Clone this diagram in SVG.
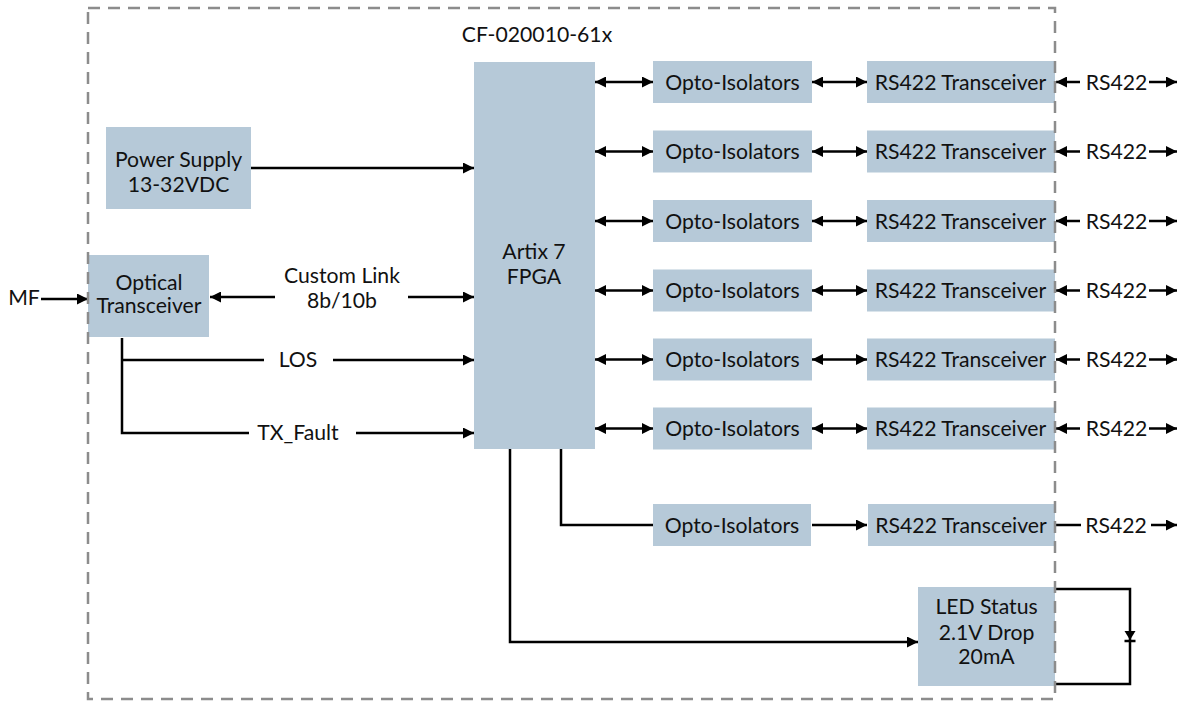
<svg xmlns="http://www.w3.org/2000/svg" width="1183" height="704" viewBox="0 0 1183 704">
<style>
.box{fill:#b6c9d8}
.t{font-family:Lato,"Open Sans",sans-serif;font-size:21.2px;fill:#111;text-anchor:middle}
.c{fill:none;stroke:#000;stroke-width:2.5}
.a{marker-end:url(#ah)}
.b{marker-start:url(#ah);marker-end:url(#ah)}
.border{fill:none;stroke:#8c8c8c;stroke-width:2.5;stroke-dasharray:12 8}
</style>
<defs>
<marker id="ah" markerUnits="userSpaceOnUse" markerWidth="11" markerHeight="11" refX="11" refY="5.5" orient="auto-start-reverse" viewBox="0 0 11 11">
<path d="M0,0 L11,5.5 L0,11 z" fill="#000"/>
</marker>
</defs>
<rect width="1183" height="704" fill="#fff"/>

<text class="t" x="537" y="42">CF-020010-61x</text>

<g id="connectors">
<path class="c a" d="M251,168 H474"/>
<path class="c a" d="M41,299 H88"/>
<path class="c a" d="M275,297 H210"/>
<path class="c a" d="M408,297 H474"/>
<path class="c" d="M122,338 V433 H249"/>
<path class="c" d="M122,360 H264"/>
<path class="c a" d="M333,360 H474"/>
<path class="c a" d="M356,433 H474"/>
<g id="row-links">
<path class="c b" d="M595,82 H653"/><path class="c b" d="M812,82 H867"/><path class="c a" d="M1080,82 H1056"/><path class="c a" d="M1149,82 H1177"/>
<path class="c b" d="M595,151.5 H653"/><path class="c b" d="M812,151.5 H867"/><path class="c a" d="M1080,151.5 H1056"/><path class="c a" d="M1149,151.5 H1177"/>
<path class="c b" d="M595,221 H653"/><path class="c b" d="M812,221 H867"/><path class="c a" d="M1080,221 H1056"/><path class="c a" d="M1149,221 H1177"/>
<path class="c b" d="M595,290.5 H653"/><path class="c b" d="M812,290.5 H867"/><path class="c a" d="M1080,290.5 H1056"/><path class="c a" d="M1149,290.5 H1177"/>
<path class="c b" d="M595,359.5 H653"/><path class="c b" d="M812,359.5 H867"/><path class="c a" d="M1080,359.5 H1056"/><path class="c a" d="M1149,359.5 H1177"/>
<path class="c b" d="M595,428.5 H653"/><path class="c b" d="M812,428.5 H867"/><path class="c a" d="M1080,428.5 H1056"/><path class="c a" d="M1149,428.5 H1177"/>
</g>
<path class="c" d="M561,449 V525 H653"/>
<path class="c a" d="M812,525 H867"/>
<path class="c" d="M1055,525 H1081"/>
<path class="c a" d="M1151,525 H1177"/>
<path class="c a" d="M510,449 V642 H918"/>
<path class="c" d="M1055,589 H1130 V684 H1055"/>
<path d="M1124.5,631 H1135.5 L1130,640 z" fill="#000"/>
<path class="c" d="M1124.5,641 H1135.5"/>
</g>

<g id="fpga"><rect class="box" x="474" y="62" width="121" height="387"/><text class="t" x="534" y="259">Artix 7</text><text class="t" x="534" y="284">FPGA</text></g>
<g id="power"><rect class="box" x="106" y="127" width="145" height="82"/><text class="t" x="178.5" y="167">Power Supply</text><text class="t" x="178.5" y="192">13-32VDC</text></g>
<g id="optical"><rect class="box" x="88" y="255" width="121" height="82"/><text class="t" x="149" y="289.5">Optical</text><text class="t" x="149" y="313">Transceiver</text></g>
<text class="t" x="24" y="305">MF</text>
<text class="t" x="342" y="283">Custom Link</text>
<text class="t" x="342" y="308">8b/10b</text>
<text class="t" x="298" y="367">LOS</text>
<text class="t" x="298" y="440">TX_Fault</text>

<g id="row1"><rect class="box" x="653" y="61" width="159" height="42"/><text class="t" x="732.5" y="89.5">Opto-Isolators</text><rect class="box" x="867" y="61" width="188" height="42"/><text class="t" x="960.5" y="89.5">RS422 Transceiver</text><text class="t" x="1116.5" y="89.5">RS422</text></g>
<g id="row2"><rect class="box" x="653" y="130.5" width="159" height="42"/><text class="t" x="732.5" y="159">Opto-Isolators</text><rect class="box" x="867" y="130.5" width="188" height="42"/><text class="t" x="960.5" y="159">RS422 Transceiver</text><text class="t" x="1116.5" y="159">RS422</text></g>
<g id="row3"><rect class="box" x="653" y="200" width="159" height="42"/><text class="t" x="732.5" y="228.5">Opto-Isolators</text><rect class="box" x="867" y="200" width="188" height="42"/><text class="t" x="960.5" y="228.5">RS422 Transceiver</text><text class="t" x="1116.5" y="228.5">RS422</text></g>
<g id="row4"><rect class="box" x="653" y="269.5" width="159" height="42"/><text class="t" x="732.5" y="298">Opto-Isolators</text><rect class="box" x="867" y="269.5" width="188" height="42"/><text class="t" x="960.5" y="298">RS422 Transceiver</text><text class="t" x="1116.5" y="298">RS422</text></g>
<g id="row5"><rect class="box" x="653" y="338.5" width="159" height="42"/><text class="t" x="732.5" y="367">Opto-Isolators</text><rect class="box" x="867" y="338.5" width="188" height="42"/><text class="t" x="960.5" y="367">RS422 Transceiver</text><text class="t" x="1116.5" y="367">RS422</text></g>
<g id="row6"><rect class="box" x="653" y="407.5" width="159" height="42"/><text class="t" x="732.5" y="436">Opto-Isolators</text><rect class="box" x="867" y="407.5" width="188" height="42"/><text class="t" x="960.5" y="436">RS422 Transceiver</text><text class="t" x="1116.5" y="436">RS422</text></g>
<g id="row7"><rect class="box" x="653" y="504" width="158" height="42"/><text class="t" x="732" y="532.5">Opto-Isolators</text><rect class="box" x="868" y="504" width="187" height="42"/><text class="t" x="961" y="532.5">RS422 Transceiver</text><text class="t" x="1116" y="532.5">RS422</text></g>
<g id="led"><rect class="box" x="918" y="587" width="137" height="99"/><text class="t" x="986.5" y="614">LED Status</text><text class="t" x="986.5" y="640">2.1V Drop</text><text class="t" x="986.5" y="664">20mA</text></g>

<rect class="border" x="88" y="8" width="967" height="691"/>
</svg>
